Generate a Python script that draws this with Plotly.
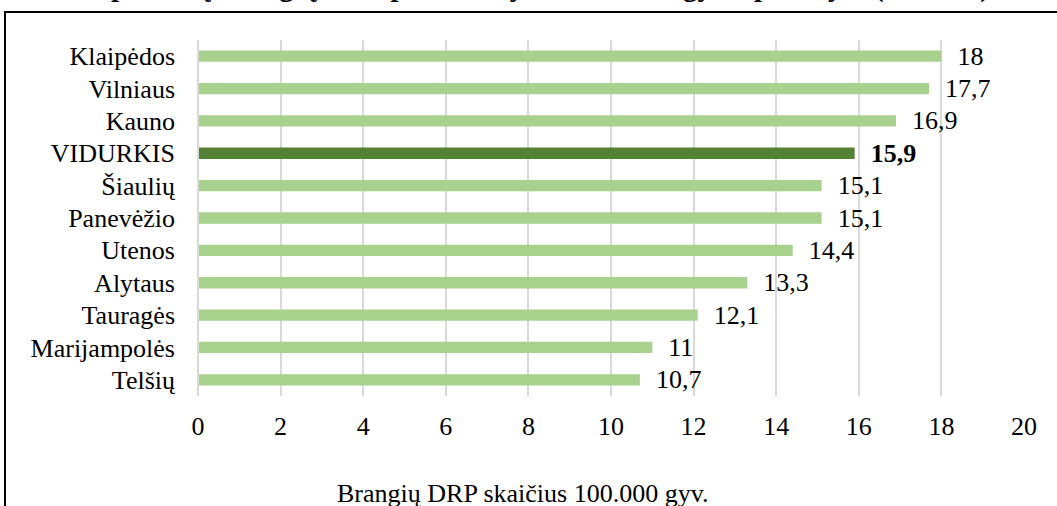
import plotly.graph_objects as go

# Regions (top to bottom) and the number of expensive DRP per 100,000 residents
regions = ["Klaipėdos", "Vilniaus", "Kauno", "VIDURKIS", "Šiaulių", "Panevėžio",
           "Utenos", "Alytaus", "Tauragės", "Marijampolės", "Telšių"]
values = [18, 17.7, 16.9, 15.9, 15.1, 15.1, 14.4, 13.3, 12.1, 11, 10.7]
average_label = "VIDURKIS"

x_ticks = [0, 2, 4, 6, 8, 10, 12, 14, 16, 18, 20]

title_text = "Apskričių brangių DRP pasiskirstymas 100.000 gyv. apskrityse (2019 m.)"
axis_title = "Brangių DRP skaičius 100.000 gyv."

LIGHT = "#A9D18E"
DARK = "#548235"
FONT = "Times New Roman, Liberation Serif, serif"
SIZE = 26

colors = [DARK if r == average_label else LIGHT for r in regions]
label_text = []
for r, v in zip(regions, values):
    s = f"{v:g}".replace(".", ",")
    label_text.append(f"<b>{s}</b>" if r == average_label else s)

# Plot area geometry (pixels) used to place the frame and free-standing text
W, H = 1057, 506
L, R, T, B = 198, 33, 40, 110
PW, PH = W - L - R, H - T - B


def px_x(px):
    return (px - L) / PW


def px_y(py):
    return (H - B - py) / PH


fig = go.Figure()
fig.add_trace(go.Bar(
    y=regions,
    x=values,
    orientation="h",
    marker=dict(color=colors, line=dict(width=0)),
    text=label_text,
    textposition="outside",
    texttemplate="\u00a0\u00a0%{text}",
    textfont=dict(family=FONT, size=SIZE, color="black"),
    constraintext="none",
    cliponaxis=False,
    hoverinfo="skip",
))

fig.update_layout(
    width=W, height=H,
    margin=dict(l=L, r=R, t=T, b=B, pad=0),
    paper_bgcolor="white",
    plot_bgcolor="white",
    bargap=0.65,
    showlegend=False,
    font=dict(family=FONT, size=SIZE, color="black"),
    xaxis=dict(
        range=[0, 20],
        tickvals=x_ticks,
        ticktext=[str(t) for t in x_ticks],
        showgrid=True,
        gridcolor="#D9D9D9",
        gridwidth=2,
        zeroline=False,
        showline=False,
        ticks="",
        ticklabelstandoff=12,
        tickfont=dict(family=FONT, size=SIZE),
    ),
    yaxis=dict(
        categoryorder="array",
        categoryarray=regions[::-1],
        showgrid=False,
        zeroline=False,
        showline=False,
        ticks="",
        ticklabelstandoff=22,
        tickfont=dict(family=FONT, size=SIZE),
    ),
    shapes=[
        dict(type="line", xref="paper", yref="paper",
             x0=0, x1=0, y0=0, y1=1,
             line=dict(color="#D9D9D9", width=2)),
        dict(type="rect", xref="paper", yref="paper",
             x0=px_x(5), x1=px_x(W + 20), y0=px_y(H + 20), y1=px_y(12),
             line=dict(color="black", width=2), fillcolor="rgba(0,0,0,0)",
             layer="above"),
    ],
    annotations=[
        dict(text=axis_title, xref="paper", yref="paper",
             x=px_x(522), y=px_y(494), xanchor="center", yanchor="middle",
             showarrow=False, font=dict(family=FONT, size=SIZE, color="black")),
        dict(text=f"<b>{title_text}</b>", xref="paper", yref="paper",
             x=px_x(540), y=px_y(5.5), xanchor="center", yanchor="bottom",
             showarrow=False, font=dict(family=FONT, size=29, color="black")),
    ],
)

fig.write_html("out.html")
